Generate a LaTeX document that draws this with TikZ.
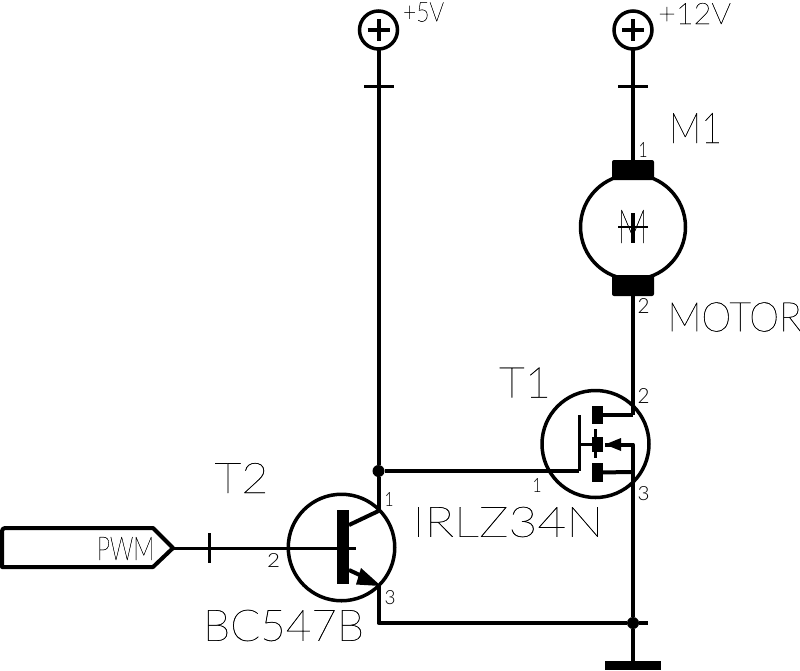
\documentclass[tikz,border=0pt]{standalone}
\usepackage{fontspec}
\usetikzlibrary{calc}
\setmainfont{Lato}[UprightFont=* Thin, FakeBold=0.5]
\newfontfamily\pinfont{Lato}[UprightFont=* Light]
\newcommand{\fitted}[3]{\resizebox{#1pt}{#2pt}{#3}}
\newcommand{\pinno}[3]{\resizebox{#1pt}{#2pt}{\pinfont #3}}
\tikzset{
	wire/.style = {draw, line width = 4pt, line join = round},
	thinwire/.style = {draw, line width = 3pt},
	ring/.style = {draw, circle, line width = 3.5pt, inner sep = 0pt, outer sep = 0pt},
	supply/.style = {ring, minimum size = 38pt},
	device/.style = {ring, minimum size = 106pt},
	dot/.style = {fill, circle, inner sep = 0pt, outer sep = 0pt, minimum size = 12pt},
	block/.style = {fill, inner sep = 0pt, outer sep = 0pt},
	caption/.style = {inner sep = 0pt, outer sep = 0pt},
}
\begin{document}
\begin{tikzpicture}[x = 1pt, y = -1pt]
	\useasboundingbox (0,0) rectangle (800,670);

	% supplies
	\node (vcc) [supply] at (378.5,30) {};
	\node (vdd) [supply] at (633,30) {};
	\foreach \c in {vcc,vdd} {
		\draw [line width = 4pt] ($(\c)+(-11,0)$) -- ($(\c)+(11,0)$);
		\draw [line width = 4pt] ($(\c)+(0,-11)$) -- ($(\c)+(0,11)$);
	}
	\node (vcclabel) [caption] at (423.5,12) {\fitted{41}{19}{+5V}};
	\node (vddlabel) [caption] at (694.5,13.5) {\fitted{73}{21}{+12V}};

	% junctions and free ends
	\node (top) [dot] at (378.5,471) {};
	\node (gnd) [dot] at (633,623) {};
	\coordinate (gate) at (579,471);
	\coordinate (drain) at (633,415);
	\coordinate (source) at (633,472);
	\coordinate (coll) at (378.5,511);
	\coordinate (emit) at (378.5,585);
	\coordinate (stub) at (648,623);
	\coordinate (base) at (356,548);

	% motor
	\node (motor) [device, minimum size = 105pt] at (633,227) {};
	\node (mtop) [block, rounded corners = 2pt, minimum width = 42pt, minimum height = 20pt] at (633,170) {};
	\node (mbot) [block, rounded corners = 2pt, minimum width = 42pt, minimum height = 21pt] at (633,285.5) {};
	\node (mletter) [caption] at (632.5,226.5) {\fitted{30}{33}{M}};
	\draw [line width = 4pt] (633,213) -- (633,243);
	\draw [line width = 2.5pt] (618,227) -- (648,227);
	\node (m1) [caption] at (695.5,128) {\fitted{53}{30}{M1}};
	\node (mname) [caption] at (734.5,317) {\fitted{134}{29}{MOTOR}};
	\node [caption] at (643,150) {\pinno{9}{15}{1}};
	\node [caption] at (643.5,305.5) {\pinno{12}{15}{2}};

	% T1
	\node (t1) [device, minimum size = 107pt] at (595.5,444) {};
	\node (t1d) [block, minimum width = 11pt, minimum height = 18pt] at (597.5,415) {};
	\node (t1b) [block, minimum width = 11pt, minimum height = 15pt] at (597.5,444.5) {};
	\node (t1s) [block, minimum width = 11pt, minimum height = 19pt] at (597.5,472.5) {};
	\draw [line width = 2.5pt] (595.5,429) -- (595.5,458);
	\coordinate (t1g) at (579,415);
	\coordinate (t1tip) at (605,444.5);
	\coordinate (t1arm) at (633,444.5);
	\fill (t1tip) -- (621,438) -- (621,451) -- cycle;
	\draw [wire, line width = 3pt] (t1g) -- (gate);
	\draw [thinwire] (579,444.5) -- (t1b);
	\draw [wire] (t1d) -- (drain);
	\draw [wire] (t1s) -- (source);
	\draw [wire] (t1tip) -- (t1arm) -- (source);
	\node (t1name) [caption] at (525,382.5) {\fitted{52}{30}{T1}};
	\node (t1type) [caption] at (508,522) {\fitted{191}{30}{IRLZ34N}};
	\node [caption] at (643.5,395.5) {\pinno{12}{15}{2}};
	\node [caption] at (537,485) {\pinno{9}{14}{1}};
	\node [caption] at (643.5,494) {\pinno{12}{14}{3}};

	% T2
	\node (t2) [device, minimum size = 106.5pt] at (341.5,547.5) {};
	\node (t2bar) [block, minimum width = 12pt, minimum height = 74pt] at (343,547) {};
	\coordinate (t2c) at (349,525);
	\coordinate (t2e) at (349,570);
	\coordinate (t2tip) at (381,586);
	\fill (t2tip) -- (361,568) -- (356,584.5) -- cycle;
	\draw [wire] (t2c) -- (coll);
	\draw [wire] (t2e) -- (365,577.5);
	\node (t2name) [caption] at (241.5,478) {\fitted{54}{30}{T2}};
	\node (t2type) [caption] at (283.5,625.5) {\fitted{161}{31}{BC547B}};
	\node [caption] at (389,499) {\pinno{9}{14}{1}};
	\node [caption] at (273.5,560) {\pinno{13}{14}{2}};
	\node [caption] at (390,598) {\pinno{11}{14}{3}};

	% PWM input
	\coordinate (pwmtip) at (173,548);
	\draw [wire] (pwmtip) -- (153,567) -- (2,567) [rounded corners = 3pt] -- (2,528) [sharp corners] -- (153,528) -- cycle;
	\node (pwm) [caption] at (125.5,548.5) {\fitted{57}{23}{PWM}};

	% ground
	\node (earth) [block, minimum width = 56pt, minimum height = 9pt] at (633,665.5) {};

	% nets
	\draw [wire] (vcc) -- (top);
	\draw [wire] (top) -- (gate);
	\draw [wire] (top) -- (coll);
	\draw [wire] (vdd) -- (mtop);
	\draw [wire] (mbot) -- (drain);
	\draw [wire] (source) -- (gnd);
	\draw [wire] (gnd) -- (earth);
	\draw [wire] (emit) -- (378.5,623) -- (gnd);
	\draw [wire] (gnd) -- (stub);
	\draw [thinwire] (pwmtip) -- (base);

	% ticks
	\draw [thinwire] (364,86) -- (394,86);
	\draw [thinwire] (618,86) -- (648,86);
	\draw [thinwire] (209,533) -- (209,563);
\end{tikzpicture}
\end{document}
